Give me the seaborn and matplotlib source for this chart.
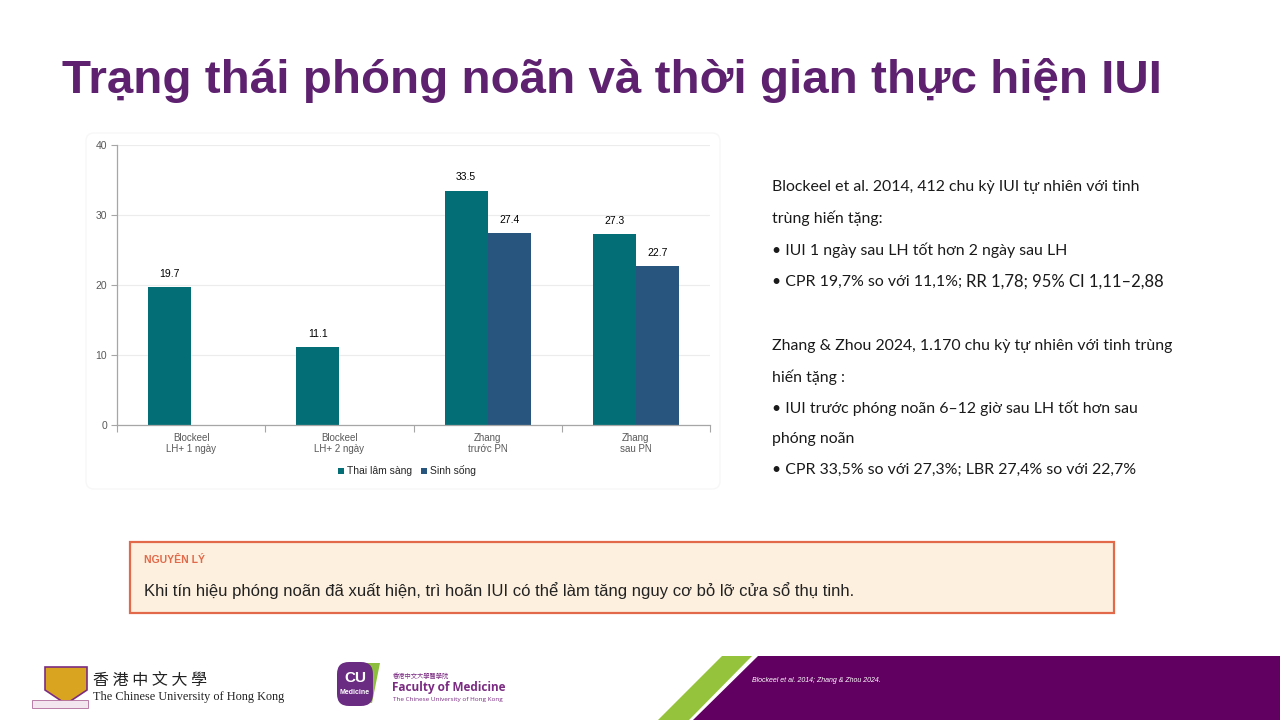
import numpy as np
import pandas as pd
import matplotlib
matplotlib.use("Agg")
import matplotlib.pyplot as plt
import seaborn as sns
from matplotlib.patches import Rectangle, Polygon, FancyBboxPatch

# ---------------- data ----------------
categories = ["Blockeel\nLH+ 1 ngày", "Blockeel\nLH+ 2 ngày", "Zhang\ntrước PN", "Zhang\nsau PN"]
series_names = ["Thai lâm sàng", "Sinh sống"]
clinical_pregnancy = [19.7, 11.1, 33.5, 27.3]
live_birth = [np.nan, np.nan, 27.4, 22.7]
y_ticks = [0, 10, 20, 30, 40]

title_text = "Trạng thái phóng noãn và thời gian thực hiện IUI"
right_lines = [
    "Blockeel et al. 2014, 412 chu kỳ IUI tự nhiên với tinh",
    "trùng hiến tặng:",
    "• IUI 1 ngày sau LH tốt hơn 2 ngày sau LH",
    "• CPR 19,7% so với 11,1%; ",
    "",
    "Zhang & Zhou 2024, 1.170 chu kỳ tự nhiên với tinh trùng",
    "hiến tặng :",
    "• IUI trước phóng noãn 6–12 giờ sau LH tốt hơn sau",
    "phóng noãn",
    "• CPR 33,5% so với 27,3%; LBR 27,4% so với 22,7%",
]
right_line_extra = "RR 1,78; 95% CI 1,11–2,88"
callout_label = "NGUYÊN LÝ"
callout_text = "Khi tín hiệu phóng noãn đã xuất hiện, trì hoãn IUI có thể làm tăng nguy cơ bỏ lỡ cửa sổ thụ tinh."
footer_ref = "Blockeel et al. 2014; Zhang & Zhou 2024."

df = pd.DataFrame({
    "cat": categories * 2,
    "series": [series_names[0]] * 4 + [series_names[1]] * 4,
    "value": clinical_pregnancy + live_birth,
})

TEAL = "#036E76"
NAVY = "#28557D"
PURPLE = "#5E2170"

sns.set_theme(style="white")
plt.rcParams["font.family"] = ["Liberation Sans", "DejaVu Sans"]

W, H = 1280, 720
fig = plt.figure(figsize=(12.8, 7.2), dpi=100)
fig.patch.set_facecolor("white")

# overlay in pixel coords
ov = fig.add_axes([0, 0, 1, 1], zorder=0)
ov.set_xlim(0, W)
ov.set_ylim(H, 0)
ov.axis("off")

# chart backdrop
ov.add_patch(FancyBboxPatch((86, 133), 634, 356, boxstyle="round,pad=0,rounding_size=8",
                            facecolor="white", edgecolor="#f7f7f7", lw=1.0))

# ---------------- chart ----------------
ax = fig.add_axes([117 / W, 1 - 425 / H, (710 - 117) / W, (425 - 145) / H], zorder=2)
sns.barplot(data=df, x="cat", y="value", hue="series", palette=[TEAL, NAVY],
            width=0.58, gap=0, saturation=1, errorbar=None, ax=ax, legend=True)
ax.set_ylim(0, 40)
ax.set_xlim(-0.5, 3.5)
ax.set_yticks(y_ticks)
ax.set_xlabel("")
ax.set_ylabel("")
ax.grid(axis="y", color="#ececec", lw=0.8)
ax.set_axisbelow(True)
for s in ["top", "right"]:
    ax.spines[s].set_visible(False)
for s in ["left", "bottom"]:
    ax.spines[s].set_color("#a6a6a6")
    ax.spines[s].set_linewidth(0.9)
ax.tick_params(axis="y", labelsize=7.5, colors="#595959", length=4, width=0.8, color="#a6a6a6", pad=3, left=True)
ax.tick_params(axis="x", labelsize=7, colors="#595959", length=0, pad=6)
ax.set_xticks(np.arange(-0.5, 4.0, 1.0), minor=True)
ax.tick_params(axis="x", which="minor", length=5, width=0.8, color="#a6a6a6", bottom=True)
for lbl in ax.get_xticklabels():
    lbl.set_linespacing(1.1)
for cont in ax.containers:
    ax.bar_label(cont, fmt="%.1f", padding=6, fontsize=7.5, color="black")
for p in ax.patches:
    p.set_edgecolor("none")

handles, labels = ax.get_legend_handles_labels()
ax.legend(handles, labels, loc="center", bbox_to_anchor=(407 / W, 1 - 471 / H),
          bbox_transform=fig.transFigure, ncol=2, frameon=False, fontsize=7.5,
          handlelength=0.6, handleheight=0.6, handletextpad=0.3, columnspacing=0.8)

# ---------------- title ----------------
ov.text(62, 93, title_text, fontsize=34.2, fontweight="bold", color=PURPLE,
        family=["Liberation Sans", "DejaVu Sans"], va="baseline", ha="left")

# ---------------- right text ----------------
ys = [187, 218, 250, 282, 314, 346, 377, 408, 439, 470]
RF = ["Lato", "DejaVu Sans"]
fig.canvas.draw()
renderer = fig.canvas.get_renderer()
for y, line in zip(ys, right_lines):
    if not line:
        continue
    t = ov.text(772, y, line, fontsize=11.4, color="#1a1a1a", family=RF, va="center", ha="left")
    if line.startswith("• CPR 19"):
        bb = t.get_window_extent(renderer=renderer)
        x_data = ov.transData.inverted().transform((bb.x1, 0))[0]
        ov.text(x_data, y, right_line_extra, fontsize=12.0, color="#1a1a1a", family=RF,
                va="center", ha="left")

# ---------------- callout ----------------
ov.add_patch(Rectangle((130, 542), 984, 71, facecolor="#FEF0DE", edgecolor="#E2694A", lw=1.6))
ov.text(144, 560, callout_label, fontsize=7.5, color="#E2694A", fontweight="bold",
        family=["Liberation Sans Narrow", "Liberation Sans"], va="center", ha="left")
ov.text(144, 591, callout_text, fontsize=12, color="#222222",
        family=["Liberation Sans", "DejaVu Sans"], va="center", ha="left")

# ---------------- footer ----------------
ov.add_patch(Polygon([(758, 656), (W, 656), (W, H), (693, H)], closed=True,
                     facecolor="#610060", edgecolor="none"))
ov.add_patch(Polygon([(722, 656), (752, 656), (689, H), (658, H)], closed=True,
                     facecolor="#96C33C", edgecolor="none"))
ov.text(752, 681, footer_ref, fontsize=5, color="white", style="italic", va="center", ha="left")

# CUHK logo (simplified)
ov.add_patch(Polygon([(45, 667), (87, 667), (87, 690), (66, 704), (45, 690)], closed=True,
                     facecolor="#D9A520", edgecolor="#7B2C82", lw=1.2))
ov.add_patch(Rectangle((32, 700), 56, 8, facecolor="#F3E6EE", edgecolor="#B06A9A", lw=0.6))
ov.text(93, 680, "香 港 中 文 大 學", fontsize=11.5, color="#222222",
        family=["Noto Sans CJK TC", "DejaVu Sans"], va="center", ha="left")
ov.text(93, 697, "The Chinese University of Hong Kong", fontsize=8.8, color="#222222",
        family=["Liberation Serif", "DejaVu Serif"], va="center", ha="left")

# CU Medicine logo (simplified)
ov.add_patch(Polygon([(380, 663), (364, 663), (355, 675), (357, 700), (372, 703)], closed=True,
                     facecolor="#8DBE3E", edgecolor="none"))
ov.add_patch(FancyBboxPatch((337, 662), 36, 44, boxstyle="round,pad=0,rounding_size=12",
                            facecolor="#6A2C83", edgecolor="none"))
ov.text(355, 678, "CU", fontsize=11, fontweight="bold", color="white", va="center", ha="center")
ov.text(355, 692, "Medicine", fontsize=5, fontweight="bold", color="white", va="center", ha="center")
ov.text(393, 676, "香港中文大學醫學院", fontsize=4.5, color="#7B2C82",
        family=["Noto Sans CJK TC", "DejaVu Sans"], va="center", ha="left")
ov.text(392, 688, "Faculty of Medicine", fontsize=8.5, fontweight="bold", color="#7B2C82",
        family=["Open Sans", "DejaVu Sans"], va="center", ha="left")
ov.text(393, 699, "The Chinese University of Hong Kong", fontsize=4.6, color="#7B2C82",
        family=["Open Sans", "DejaVu Sans"], va="center", ha="left")

fig.savefig("out.png", dpi=100, facecolor="white")
